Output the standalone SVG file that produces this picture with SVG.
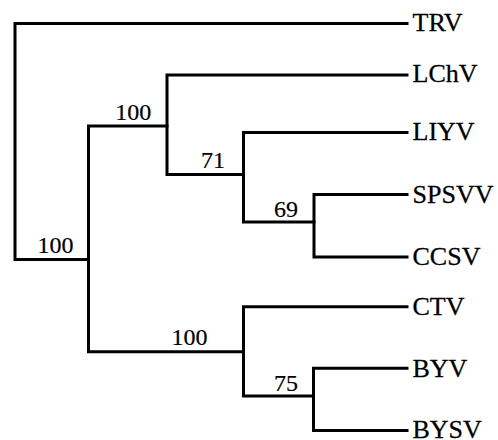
<svg xmlns="http://www.w3.org/2000/svg" width="498" height="440" viewBox="0 0 498 440">
<style>
.e{fill:none;stroke:#000;stroke-width:3;stroke-linecap:square;stroke-linejoin:miter}
.l{font-family:"Liberation Serif","Times New Roman",serif;font-size:26px;fill:#000;stroke:#000;stroke-width:0.3}
.n{font-family:"Liberation Serif","Times New Roman",serif;font-size:24px;fill:#000;stroke:#000;stroke-width:0.2;text-anchor:end}
</style>
<rect width="498" height="440" fill="#fff"/>
<g id="connectors">
<path class="e" d="M407,23.5 H15 V259.5 H88.5"/>
<path class="e" d="M167,126 H88.5 V351.7 H243.5"/>
<path class="e" d="M407,75 H167 V174.5 H243.5"/>
<path class="e" d="M407,132.5 H243.5 V222 H314"/>
<path class="e" d="M407,194.5 H314 V257 H407"/>
<path class="e" d="M407,306.7 H243.5 V396 H313.5"/>
<path class="e" d="M407,368.3 H313.5 V430.5 H407"/>
</g>
<g id="TRV"><text class="l" x="412.5" y="30.5">TRV</text></g>
<g id="LChV"><text class="l" x="412.5" y="82">LChV</text></g>
<g id="LIYV"><text class="l" x="412.5" y="140">LIYV</text></g>
<g id="SPSVV"><text class="l" x="412.5" y="202.5">SPSVV</text></g>
<g id="CCSV"><text class="l" x="412.5" y="265">CCSV</text></g>
<g id="CTV"><text class="l" x="412.5" y="315">CTV</text></g>
<g id="BYV"><text class="l" x="412.5" y="376.5">BYV</text></g>
<g id="BYSV"><text class="l" x="412.5" y="438">BYSV</text></g>
<g id="node-root"><text class="n" x="73.6" y="252.5">100</text></g>
<g id="node-A"><text class="n" x="151.3" y="120">100</text></g>
<g id="node-B"><text class="n" x="225" y="168.3">71</text></g>
<g id="node-C"><text class="n" x="298" y="216.7">69</text></g>
<g id="node-E"><text class="n" x="207.6" y="345">100</text></g>
<g id="node-F"><text class="n" x="298" y="391">75</text></g>
</svg>
